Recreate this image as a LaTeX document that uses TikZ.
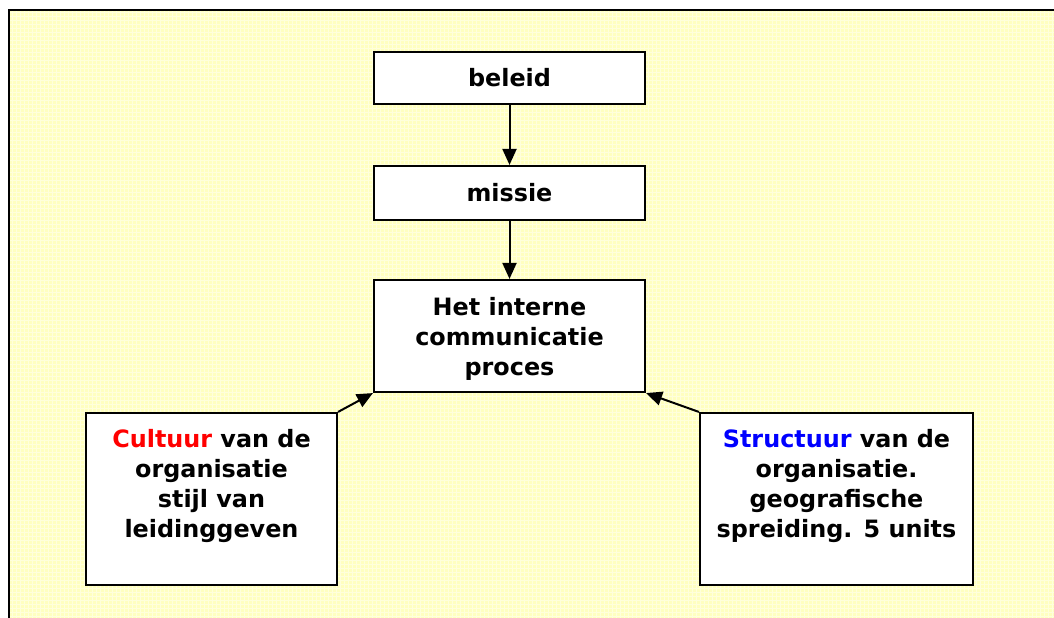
\documentclass[tikz,border=0pt]{standalone}
\usepackage{fontspec}
\setmainfont{DejaVu Sans}
\usetikzlibrary{arrows.meta}
\definecolor{paper}{RGB}{255,255,192}
\definecolor{cultred}{RGB}{255,0,0}
\definecolor{structblue}{RGB}{0,0,255}
\begin{document}
\begin{tikzpicture}[x=0.75pt,y=-0.75pt,
  box/.style={draw=black,line width=1.6pt,fill=white,rectangle,inner sep=0pt},
  txt/.style={align=center,inner sep=0pt,font=\fontsize{17.9}{22.5}\selectfont\bfseries},
  arr/.style={line width=1.5pt,-{Triangle[length=12pt,width=10.5pt]}}]
\useasboundingbox (0,0) rectangle (1054,618);
\begin{scope}
  \clip (0,0) rectangle (1054,618);
  % page background with its faint grid
  \fill[paper] (9,10) rectangle (1070,640);
  \draw[white,line width=0.35pt,opacity=0.45,step=3pt] (9,10) grid (1070,640);
  \draw[black,line width=1.8pt] (9,640) -- (9,10) -- (1070,10);
\end{scope}
% boxes
\node[box,minimum width=271*0.75pt,minimum height=52*0.75pt] (beleid) at (509.5,78) {};
\node[txt] (beleidtxt) at (509.5,78) {beleid};
\node[box,minimum width=271*0.75pt,minimum height=54*0.75pt] (missie) at (509.5,193) {};
\node[txt] (missietxt) at (509.5,193) {missie};
\node[box,minimum width=271*0.75pt,minimum height=112*0.75pt] (proces) at (509.5,336) {};
\node[txt] (procestxt) at (509.5,339) {Het interne\\communicatie\\proces};
\node[box,minimum width=251*0.75pt,minimum height=172*0.75pt] (cultuur) at (211.5,499) {};
\node[txt] (cultuurtxt) at (211.5,486) {\textcolor{cultred}{Cultuur} van de\\organisatie\\stijl van\\leidinggeven};
\node[box,minimum width=273*0.75pt,minimum height=172*0.75pt] (structuur) at (836.5,499) {};
\node[txt] (structuurtxt) at (836.5,486) {\textcolor{structblue}{Structuur} van de\\organisatie.\\geografische\\spreiding. 5 units};
% connectors
\draw[arr] (beleid.south) -- (missie.north);
\draw[arr] (missie.south) -- (proces.north);
\draw[arr] (cultuur.north east) -- (proces.south west);
\draw[arr] (structuur.north west) -- (proces.south east);
\end{tikzpicture}
\end{document}
